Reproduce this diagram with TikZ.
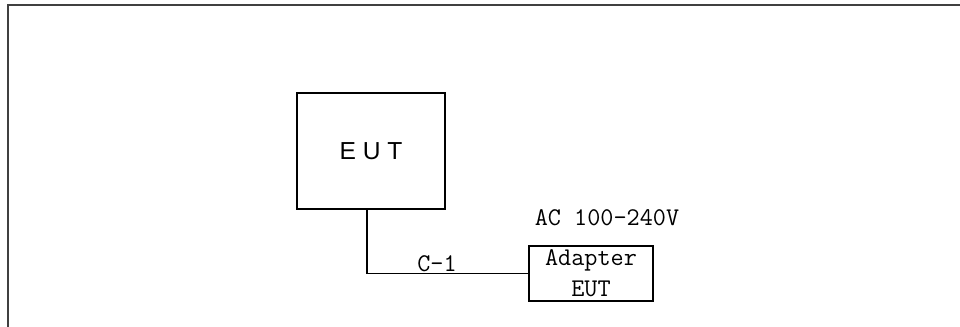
\documentclass[tikz,border=0pt]{standalone}
\usepackage{fontspec}
\newfontfamily\eutfont{Liberation Sans}
\usepackage{tikz}
\usetikzlibrary{positioning,shapes,arrows}

\begin{document}
\begin{tikzpicture}[
  x=0.02cm, y=-0.02cm,
  box/.style={draw,line width=1pt,inner sep=0pt,align=center},
  tag/.style={inner sep=0pt,font=\ttfamily\fontsize{14.5}{17.6}\selectfont}]
\useasboundingbox (0,0) rectangle (960,327);
\draw[line width=1.1pt, black!75] (8,327) -- (8,5) -- (960,5);

\node[box, minimum width=2.96cm, minimum height=2.32cm,
  font=\eutfont\fontsize{14}{16}\selectfont] (eut) at (371,151) {E U T};
\node[box, tag, minimum width=2.48cm, minimum height=1.1cm] (adapter) at (591,273.5) {Adapter\\EUT};
\node[tag] (ac) at (607,218) {AC 100-240V};
\node[tag] (c1) at (437,264) {C-1};

\draw[line width=1pt] ([xshift=-0.08cm]eut.south) |- (adapter.west);

\end{tikzpicture}
\end{document}
